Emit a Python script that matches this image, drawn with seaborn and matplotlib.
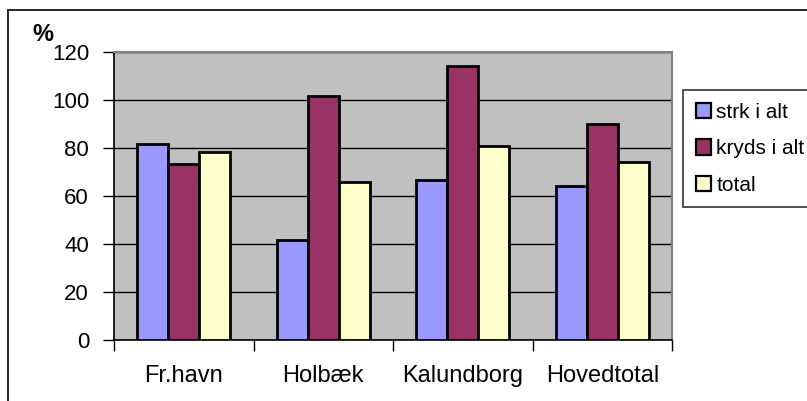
import pandas as pd
import matplotlib.pyplot as plt
import matplotlib.patches as mpatches
import seaborn as sns

# values
places = ["Fr.havn", "Holbæk", "Kalundborg", "Hovedtotal"]
series = ["strk i alt", "kryds i alt", "total"]
strk = [81.7, 41.7, 66.7, 64.2]
kryds = [73.3, 101.5, 114.0, 89.9]
total = [78.2, 65.8, 80.8, 74.2]
yticks = [0, 20, 40, 60, 80, 100, 120]

colors = {"strk i alt": "#9999FF", "kryds i alt": "#993366", "total": "#FFFFCC"}

df = pd.DataFrame({
    "place": places * 3,
    "serie": [series[0]] * 4 + [series[1]] * 4 + [series[2]] * 4,
    "value": strk + kryds + total,
})

sns.set_style("white")
plt.rcParams["font.family"] = ["Liberation Sans", "DejaVu Sans"]
plt.rcParams["text.color"] = "black"
plt.rcParams["xtick.color"] = "black"
plt.rcParams["ytick.color"] = "black"

fig = plt.figure(figsize=(8.07, 4.01), dpi=100)
ax = fig.add_axes([114 / 807, 61 / 401, 558 / 807, 288 / 401])

#outer chart frame (runs off the right and bottom edge like the original)
fig.patches.append(mpatches.Rectangle((8 / 807, -0.1), 1.1, (401 - 10) / 401 + 0.1,
                                      transform=fig.transFigure, fill=False,
                                      edgecolor="black", linewidth=1.2))

ax.set_facecolor("#C0C0C0")
sns.barplot(data=df, x="place", y="value", hue="serie", palette=colors,
            width=0.67, gap=0, edgecolor="black", linewidth=2, saturation=1,
            ax=ax, zorder=3)

ax.set_ylim(0, 120)
ax.set_xlim(-0.5, 3.5)
ax.set_yticks(yticks)
ax.yaxis.grid(True, color="black", linewidth=1)
ax.set_axisbelow(True)
ax.tick_params(axis="y", direction="out", length=8, width=1, color="black",
               labelsize=16, pad=10, left=True, labelcolor="black")
ax.set_xticks(range(len(places)))
ax.set_xticklabels(places)
ax.tick_params(axis="x", which="major", length=0, labelsize=17, pad=18,
               labelcolor="black")
ax.set_xticks([-0.5, 0.5, 1.5, 2.5, 3.5], minor=True)
ax.tick_params(axis="x", which="minor", direction="out", length=8, width=1,
               color="black", bottom=True)
ax.set_xlabel("")
ax.set_ylabel("")

for side in ["left", "bottom"]:
    ax.spines[side].set_color("black")
    ax.spines[side].set_linewidth(1.2)
for side in ["top", "right"]:
    ax.spines[side].set_color("#808080")
    ax.spines[side].set_linewidth(1.5)

fig.text(32 / 807, 1 - 23 / 401, "%", fontsize=17, fontweight="bold",
         va="top", ha="left")

handles = [mpatches.Patch(facecolor=colors[s], edgecolor="black", linewidth=1.6, label=s)
           for s in series]
ax.legend(handles=handles, loc="upper left",
          bbox_to_anchor=(683 / 807, 1 - 90 / 401), bbox_transform=fig.transFigure,
          frameon=True, fancybox=False, edgecolor="black", fontsize=15,
          handlelength=0.75, handleheight=0.75, handletextpad=0.25,
          labelspacing=0.85, borderpad=0.6, borderaxespad=0)
ax.get_legend().get_frame().set_linewidth(1.2)

fig.savefig("out.png", dpi=100)
